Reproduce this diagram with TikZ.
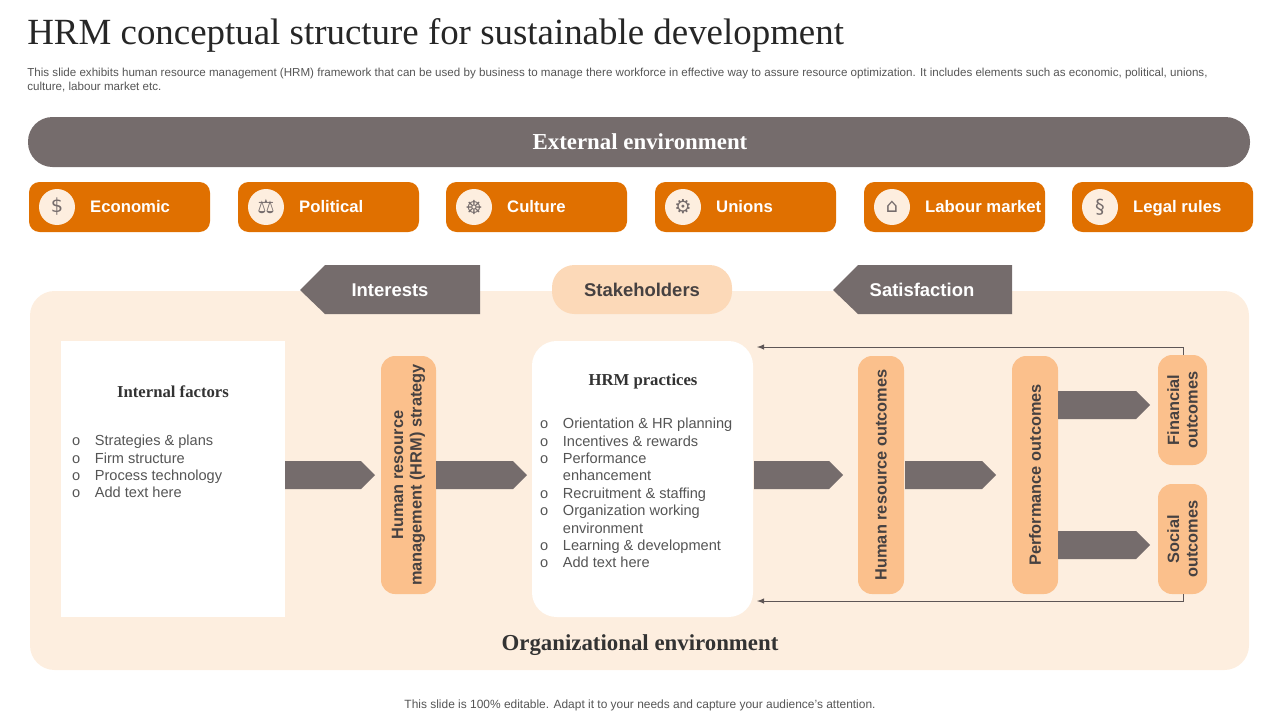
\documentclass[tikz,border=0pt]{standalone}
\usepackage{fontspec}
\setmainfont{Liberation Sans}
\newfontfamily\titlefont{Liberation Serif}
\newfontfamily\iconfont{DejaVu Sans}
\usetikzlibrary{shapes.arrows,calc}
\definecolor{greyb}{HTML}{756C6C}
\definecolor{orng}{HTML}{E07000}
\definecolor{panel}{HTML}{FDEEDF}
\definecolor{pill}{HTML}{FBC08C}
\definecolor{light}{HTML}{FCD9B8}
\definecolor{txt}{HTML}{555555}
\tikzset{
  factor/.style={fill=orng,rounded corners=6pt},
  factortext/.style={anchor=west,text=white,text height=1.6ex,text depth=0.4ex,font=\bfseries\fontsize{9.5}{12}\selectfont},
  icon/.style={circle,fill=panel,minimum size=0.72cm,inner sep=0pt,text=greyb,font=\iconfont\fontsize{11}{11}\selectfont},
  stage/.style={fill=pill,rounded corners=8pt},
  stagetext/.style={rotate=90,align=center,text=greyb!60!black,font=\bfseries\fontsize{9.3}{10.5}\selectfont},
  flow/.style={single arrow,fill=greyb,draw=none,single arrow head extend=0pt,minimum width=0.56cm,inner sep=0pt,outer sep=0pt},
  listtext/.style={anchor=north west,align=left,text=txt,font=\fontsize{8.3}{9.9}\selectfont},
  tagtext/.style={font=\bfseries\fontsize{10.5}{12}\selectfont},
}
\begin{document}
\begin{tikzpicture}[x=0.02cm,y=-0.02cm]
\useasboundingbox (0,0) rectangle (1280,720);

% Title and subtitle
\node[anchor=west,font=\titlefont\fontsize{21}{25}\selectfont,text=black!85,inner sep=0pt] (title) at (27,35) {HRM conceptual structure for sustainable development};
\node[anchor=north west,align=left,text=txt,font=\fontsize{6.6}{8}\selectfont,inner sep=0pt] (sub) at (27,68)
  {This slide exhibits human resource management (HRM) framework that can be used by business to manage there workforce in effective way to assure resource optimization. It includes elements such as economic, political, unions,\\culture, labour market etc.};

% External environment
\fill[greyb,rounded corners=0.49cm] (28,117) rectangle (1250,167);
\node[text=white,font=\titlefont\bfseries\fontsize{13}{15}\selectfont] (ext) at (640,142) {External environment};

% Factors
\foreach \x/\ic/\lab [count=\i] in {29/\$/Economic,238/⚖/Political,446/☸/Culture,655/⚙/Unions,864/⌂/Labour market,1072/§/Legal rules}{
  \fill[factor] (\x,182) rectangle ++(181,50);
  \node[icon] (ic\i) at (\x+28,207) {\ic};
  \node[factortext] (fa\i) at (\x+55,207) {\lab};
}

% Organizational environment
\fill[panel,rounded corners=14pt] (30,291) rectangle (1249,670);
\node[font=\titlefont\bfseries\fontsize{13}{15}\selectfont,text=black!80] (org) at (640,645) {Organizational environment};

% Interests, stakeholders, satisfaction
\fill[greyb] (300,290) -- (325,265) -- (480,265) -- (480,314) -- (325,314) -- cycle;
\node[tagtext,text=white] (int) at (390,290) {Interests};
\fill[light,rounded corners=0.45cm] (552,265) rectangle (732,314);
\node[tagtext,text=greyb!60!black] (stake) at (642,290) {Stakeholders};
\fill[greyb] (833,290) -- (858,265) -- (1012,265) -- (1012,314) -- (858,314) -- cycle;
\node[tagtext,text=white] (sat) at (922,290) {Satisfaction};

% Internal factors
\fill[white] (61,341) rectangle (285,617);
\node[font=\titlefont\bfseries\fontsize{9.5}{11}\selectfont,text=black!80] (inth) at (173,392) {Internal factors};
\node[listtext] (intl) at (66,429) {o\quad Strategies \& plans\\o\quad Firm structure\\o\quad Process technology\\o\quad Add text here};

% HRM strategy
\fill[stage] (381,356) rectangle (436,594);
\node[stagetext] (strat) at (408.5,475) {Human resource\\management (HRM) strategy};

% HRM practices
\fill[white,rounded corners=14pt] (532,341) rectangle (753,617);
\node[font=\titlefont\bfseries\fontsize{9.5}{11}\selectfont,text=black!80] (prh) at (643,381) {HRM practices};
\node[listtext] (prl) at (534,412) {o\quad Orientation \& HR planning\\o\quad Incentives \& rewards\\o\quad Performance\\\phantom{o}\quad enhancement\\o\quad Recruitment \& staffing\\o\quad Organization working\\\phantom{o}\quad environment\\o\quad Learning \& development\\o\quad Add text here};

% Outcomes
\fill[stage] (858,356) rectangle (904,594);
\node[stagetext] (hro) at (881,475) {Human resource outcomes};
\fill[stage] (1012,356) rectangle (1058,594);
\node[stagetext] (perf) at (1035,475) {Performance outcomes};
\fill[stage] (1158,355) rectangle (1207,465);
\node[stagetext] (fin) at (1182.5,410) {Financial\\outcomes};
\fill[stage] (1158,484) rectangle (1207,594);
\node[stagetext] (soc) at (1182.5,539) {Social\\outcomes};

% Flow arrows
\foreach \a/\b/\y [count=\i] in {285/375/475,436/527/475,754/843/475,905/996/475,1058/1150/405,1058/1150/545}{
  \node[flow,minimum height=(\b-\a)*0.02cm] (fl\i) at ({(\a+\b)/2-7},\y) {};
}

% Feedback
\coordinate (fbt) at (757,347);
\coordinate (fbb) at (757,601);
\draw[greyb!80!black,-latex] (1183,355) |- (fbt);
\draw[greyb!80!black,-latex] (1183,594) |- (fbb);

% Footer
\node[text=txt,font=\fontsize{6.8}{8}\selectfont] (foot) at (640,705) {This slide is 100\% editable. Adapt it to your needs and capture your audience's attention.};
\end{tikzpicture}
\end{document}
